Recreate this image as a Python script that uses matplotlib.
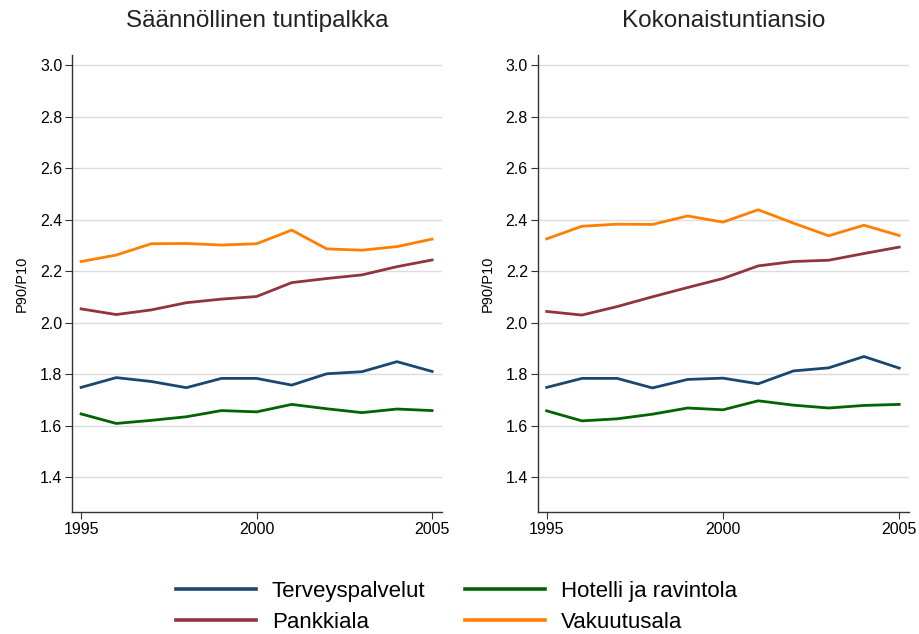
import matplotlib
matplotlib.use("Agg")
import matplotlib.pyplot as plt

plt.rcParams['font.family'] = ['Liberation Sans', 'DejaVu Sans']

years = list(range(1995, 2006))
titles = ["Säännöllinen tuntipalkka", "Kokonaistuntiansio"]
series_names = ["Terveyspalvelut", "Pankkiala", "Hotelli ja ravintola", "Vakuutusala"]
colors = ["#1a476f", "#90353b", "#006400", "#ff8000"]

# left panel: regular hourly wage
terv_saan = [1.748, 1.786, 1.771, 1.747, 1.783, 1.783, 1.757, 1.801, 1.809, 1.848, 1.810]
pank_saan = [2.053, 2.031, 2.049, 2.077, 2.091, 2.101, 2.155, 2.171, 2.185, 2.217, 2.243]
hotel_saan = [1.645, 1.608, 1.620, 1.634, 1.658, 1.653, 1.682, 1.665, 1.650, 1.664, 1.658]
vak_saan = [2.237, 2.262, 2.306, 2.307, 2.301, 2.306, 2.359, 2.286, 2.281, 2.295, 2.324]

# right panel: total hourly earnings
terv_kok = [1.748, 1.783, 1.783, 1.746, 1.779, 1.784, 1.762, 1.812, 1.824, 1.868, 1.823]
pank_kok = [2.043, 2.029, 2.062, 2.100, 2.136, 2.171, 2.220, 2.237, 2.242, 2.268, 2.293]
hotel_kok = [1.657, 1.618, 1.626, 1.644, 1.668, 1.661, 1.696, 1.679, 1.668, 1.678, 1.682]
vak_kok = [2.325, 2.374, 2.382, 2.381, 2.414, 2.390, 2.438, 2.386, 2.337, 2.378, 2.338]

yticks = [1.4, 1.6, 1.8, 2.0, 2.2, 2.4, 2.6, 2.8, 3.0]
xticks = [1995, 2000, 2005]

panels = [
    [terv_saan, pank_saan, hotel_saan, vak_saan],
    [terv_kok, pank_kok, hotel_kok, vak_kok],
]

fig = plt.figure(figsize=(9.19, 6.34), dpi=100)
ax1 = fig.add_axes([0.0783, 0.1924, 0.4026, 0.7208])
ax2 = fig.add_axes([0.5849, 0.1924, 0.4043, 0.7208])

lines = []
for ax, title, data in zip([ax1, ax2], titles, panels):
    for vals, c, name in zip(data, colors, series_names):
        ln, = ax.plot(years, vals, color=c, lw=2, label=name)
        if ax is ax1:
            lines.append(ln)
    ax.set_xlim(1994.74, 2005.28)
    ax.set_ylim(1.264, 3.039)
    ax.set_yticks(yticks)
    ax.set_yticklabels(["%.1f" % t for t in yticks])
    ax.set_xticks(xticks)
    ax.grid(axis='y', color='#dcdcdc', lw=1)
    ax.set_axisbelow(True)
    for s in ['top', 'right']:
        ax.spines[s].set_visible(False)
    for s in ['left', 'bottom']:
        ax.spines[s].set_color('#333333')
        ax.spines[s].set_linewidth(1)
    ax.tick_params(labelsize=11.5, length=5, color='#333333', pad=2)
    ax.set_ylabel("P90/P10", fontsize=10.5, labelpad=8)
    ax.set_title(title, fontsize=17.5, pad=20, color='#222222')

leg = fig.legend(handles=lines, labels=series_names,
                 ncol=2, loc='lower center', bbox_to_anchor=(0.497, -0.03),
                 frameon=False, fontsize=16, handlelength=3.6, columnspacing=1.8,
                 handletextpad=0.7, labelspacing=0.45)
for h in leg.legend_handles:
    h.set_linewidth(2.6)

fig.savefig("out.png", dpi=100)
